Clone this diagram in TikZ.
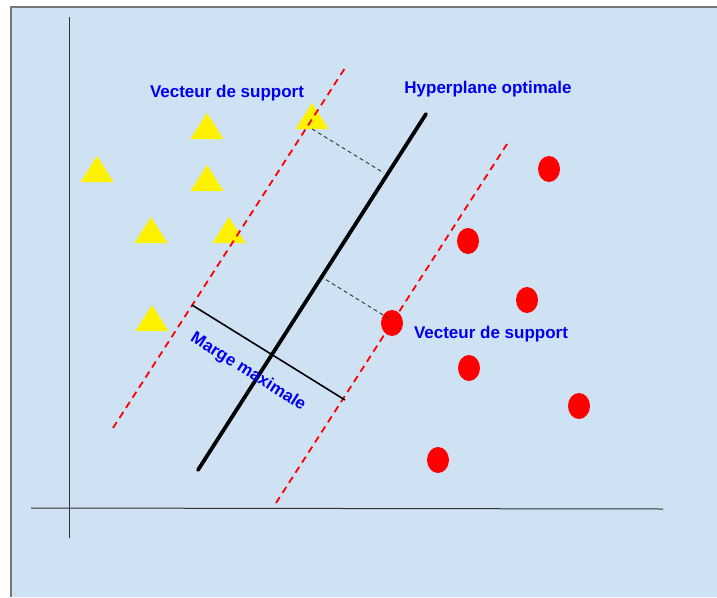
\documentclass[tikz,border=0pt]{standalone}
\usepackage{fontspec}
\setmainfont{Liberation Sans}
\usetikzlibrary{shapes.geometric}
\definecolor{bg}{HTML}{CFE2F3}
\definecolor{framegray}{HTML}{777777}
\definecolor{axisgray}{HTML}{333333}
\definecolor{lbl}{HTML}{0000EE}
\begin{document}
\begin{tikzpicture}[x=1pt,y=-1pt,
  lab/.style={text=lbl, font=\bfseries\fontsize{17}{20}\selectfont, inner sep=0pt},
  dot/.style={ellipse, fill=red, minimum width=22pt, minimum height=26pt, inner sep=0pt},
  tri/.style={fill=yellow},
  axisline/.style={axisgray, line width=1pt},
  reddash/.style={red, line width=1.8pt, dash pattern=on 7pt off 5pt},
  graydash/.style={axisgray, line width=0.9pt, dash pattern=on 4pt off 3pt},
  hyper/.style={black, line width=3.8pt, line cap=round},
  marge/.style={black, line width=1.6pt}]
\useasboundingbox (0,0) rectangle (717,597);
\fill[white] (0,0) rectangle (717,597);
\fill[bg] (11,7) rectangle (717,597);
\draw[framegray, line width=2pt] (11,597) -- (11,7) -- (717,7);
% axes
\coordinate (ya) at (69,17); \coordinate (yb) at (69,538);
\coordinate (xa) at (31,508); \coordinate (xb) at (663,509);
\draw[axisline] (ya) -- (yb);
\draw[axisline] (xa) -- (xb);
% triangles (base centre x, base y)
\foreach \n/\x/\y in {t1/207/139, t2/312/129, t3/97/182, t4/207/191, t5/151/243, t6/229/243, t7/152/331}{
  \fill[tri] (\x-16.5,\y) -- (\x+16.5,\y) -- (\x,\y-26) -- cycle;
  \coordinate (\n) at (\x,\y);
}
% circles
\node[dot] (c1) at (549,169) {};
\node[dot] (c2) at (468,241) {};
\node[dot] (c3) at (527,300) {};
\node[dot] (c4) at (392,323) {};
\node[dot] (c5) at (469,368) {};
\node[dot] (c6) at (579,406) {};
\node[dot] (c7) at (438,460) {};
% lines
\coordinate (l1) at (113,428); \coordinate (l2) at (345,68);
\coordinate (r1) at (276,503); \coordinate (r2) at (507,144);
\coordinate (h1) at (198,470); \coordinate (h2) at (426,114);
\coordinate (m1) at (192,305); \coordinate (m2) at (345,400);
\coordinate (p1) at (384,173); \coordinate (q1) at (320,276); \coordinate (q2) at (388,318);
\draw[reddash] (l1) -- (l2);
\draw[reddash] (r1) -- (r2);
\draw[graydash] (t2) -- (p1);
\draw[graydash] (q1) -- (q2);
\draw[marge] (m1) -- (m2);
\draw[hyper] (h1) -- (h2);
% labels
\node[lab] (v1) at (227,93) {Vecteur de support};
\node[lab] (hp) at (488,89) {Hyperplane optimale};
\node[lab] (v2) at (491,334) {Vecteur de support};
\node[lab, rotate=-32] (mm) at (248,372) {Marge maximale};
\end{tikzpicture}
\end{document}
